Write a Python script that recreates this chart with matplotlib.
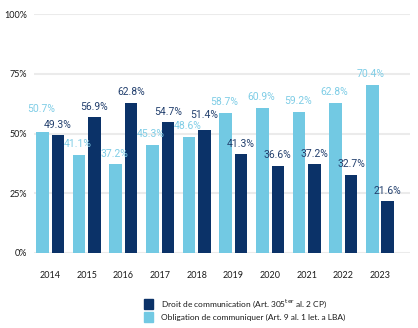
import numpy as np
import matplotlib.pyplot as plt
from matplotlib.patches import Patch

# DATA

years = ['2014', '2015', '2016', '2017', '2018', '2019', '2020', '2021', '2022', '2023']
obligation = [50.7, 41.1, 37.2, 45.3, 48.6, 58.7, 60.9, 59.2, 62.8, 70.4]
droit = [49.3, 56.9, 62.8, 54.7, 51.4, 41.3, 36.6, 37.2, 32.7, 21.6]

LIGHT = '#72c9e3'
DARK = '#0b3268'
LIGHT_TXT = '#7fcde6'
DARK_TXT = '#23406e'

plt.rcParams['font.family'] = ['Lato', 'DejaVu Sans']

# PLOT

fig = plt.figure(figsize=(4.18, 3.28), dpi=100)
ax = fig.add_axes([0.0813, 0.2287, 0.8997, 0.7283])

x = np.arange(len(years))
w = 0.34
off = 0.21

ax.bar(x - off, obligation, width=w, color=LIGHT, zorder=3)
ax.bar(x + off, droit, width=w, color=DARK, zorder=3)

# labels that would collide get lifted a little
lift_light = {0: 9}
lift_dark = {4: 3}
lbl = dict(ha='center', va='bottom', fontsize=7.5, zorder=4, textcoords='offset points',
           family=['Roboto', 'DejaVu Sans'])
for i, (a, b) in enumerate(zip(obligation, droit)):
    ax.annotate(f'{a:.1f}%', (x[i] - off, a), xytext=(-1, 4 + lift_light.get(i, 0)),
                color=LIGHT_TXT, **lbl)
    ax.annotate(f'{b:.1f}%', (x[i] + off, b), xytext=(0, 4 + lift_dark.get(i, 0)),
                color=DARK_TXT, **lbl)

ax.set_xlim(-0.44, 9.82)
ax.set_ylim(0, 100)
ax.set_yticks([0, 25, 50, 75, 100])
ax.set_yticklabels(['0%', '25%', '50%', '75%', '100%'])
ax.set_xticks(x)
ax.set_xticklabels(years)
ax.tick_params(axis='both', length=0, labelsize=6.5, colors='#1a1a1a')
ax.tick_params(axis='x', pad=13)
ax.tick_params(axis='y', pad=5)
ax.grid(axis='y', color='#ebebeb', linewidth=1.5, zorder=0)
for s in ax.spines.values():
    s.set_visible(False)

handles = [Patch(color=DARK), Patch(color=LIGHT)]
labels = [r'Droit de communication (Art. 305$^{\mathrm{ter}}$ al. 2 CP)',
          'Obligation de communiquer (Art. 9 al. 1 let. a LBA)']
fig.legend(handles, labels, loc='upper left', bbox_to_anchor=(0.345, 0.093),
           frameon=False, fontsize=6, handlelength=1.0, handleheight=1.5,
           handletextpad=1.0, labelspacing=0.2, borderpad=0, borderaxespad=0,
           labelcolor='#1a1a1a')

fig.savefig('out.png', dpi=100)
